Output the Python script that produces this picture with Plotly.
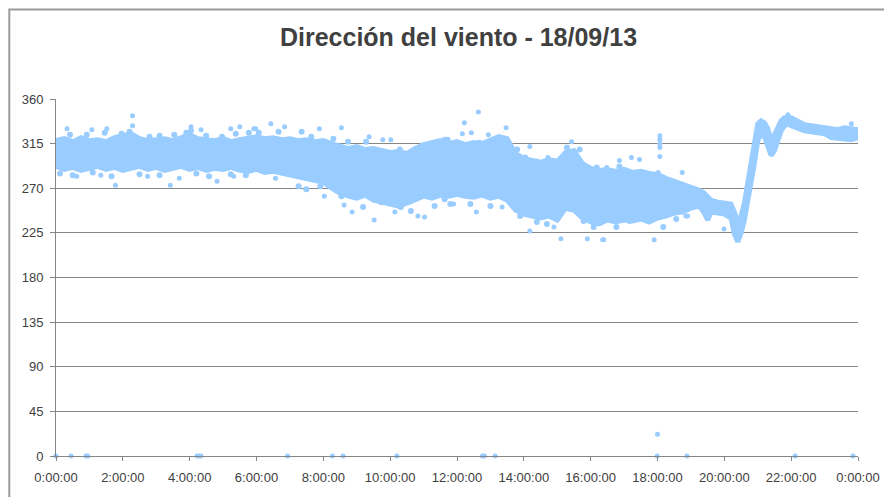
import plotly.graph_objects as go

# ---- data (hours of day, wind direction in degrees) ----
band_hours = [0.0, 0.25, 0.5, 0.75, 1.0, 1.25, 1.5, 1.75, 2.0, 2.25, 2.5, 2.75, 3.0, 3.25, 3.5, 3.75,
              4.0, 4.25, 4.5, 4.75, 5.0, 5.25, 5.5, 5.75, 6.0, 6.25, 6.5, 6.75, 7.0, 7.25, 7.5, 7.75,
              8.0, 8.25, 8.5, 8.75, 9.0, 9.25, 9.5, 9.75, 10.0, 10.25, 10.5, 10.75, 11.0, 11.25, 11.5, 11.75,
              12.0, 12.25, 12.5, 12.75, 13.0, 13.25, 13.5, 13.75, 14.0, 14.25, 14.5, 14.75, 15.0, 15.25, 15.5, 15.75,
              16.0, 16.25, 16.5, 16.75, 17.0, 17.25, 17.5, 17.75, 18.0, 18.25, 18.5, 18.75, 19.0, 19.25, 19.4, 19.5,
              19.6, 19.8, 20.0, 20.2, 20.3, 20.4, 20.5, 20.6, 20.7, 20.8, 20.9, 21.0, 21.1, 21.2, 21.3, 21.4,
              21.5, 21.6, 21.7, 21.8, 21.9, 22.0, 22.2, 22.4, 22.6, 22.8, 23.0, 23.2, 23.4, 23.6, 23.8, 24.0]
band_low = [292, 289, 291, 288, 290, 292, 289, 291, 288, 290, 292, 289, 291, 288, 290, 292,
            289, 291, 288, 290, 289, 291, 288, 287, 289, 286, 287, 285, 283, 281, 279, 278,
            276, 270, 265, 262, 260, 263, 258, 256, 254, 252, 255, 258, 262, 260, 263, 262,
            264, 262, 261, 263, 260, 262, 258, 248, 244, 242, 240, 242, 238, 250, 248, 240,
            236, 234, 238, 236, 238, 237, 239, 236, 240, 242, 245, 246, 250, 252, 245, 238,
            246, 245, 244, 240, 224, 216, 225, 238, 255, 275, 295, 318, 325, 322, 312, 303,
            308, 320, 328, 333, 335, 333, 330, 328, 327, 326, 325, 321, 320, 320, 319, 321]
band_high = [318, 320, 317, 321, 318, 319, 317, 321, 323, 325, 320, 318, 319, 320, 318, 321,
             324, 320, 319, 318, 320, 317, 319, 321, 322, 320, 321, 319, 320, 318, 319, 317,
             318, 315, 313, 310, 312, 309, 310, 308, 306, 307, 305, 310, 314, 316, 318, 315,
             317, 314, 316, 315, 318, 322, 320, 305, 300, 298, 296, 299, 297, 306, 308, 295,
             290, 288, 289, 287, 289, 286, 287, 285, 284, 280, 277, 275, 272, 268, 265, 262,
             258, 256, 255, 254, 246, 236, 242, 255, 275, 295, 315, 335, 338, 336, 330, 318,
             324, 332, 338, 341, 342, 341, 337, 334, 333, 332, 331, 330, 329, 331, 330, 329]

# dots protruding just beyond the dense band
edge_hours = [0.42, 0.92, 1.46, 1.96, 2.2, 2.8, 3.1, 3.54, 3.9, 4.04, 4.49, 4.97, 5.38, 5.77,
              0.12, 0.5, 1.1, 1.66, 2.5, 3.1, 4.2, 4.58, 5.23, 5.68,
              6.07, 6.66, 7.35, 7.64, 8.3, 8.74, 9.28, 10.29, 10.74, 11.63,
              7.26, 7.49, 7.91, 8.54, 9.19, 9.73, 10.32, 10.62, 11.33, 11.8,
              11.72, 12.67, 13.14, 13.8, 14.04, 14.39, 14.9, 15.29, 15.67, 16.18, 16.86,
              11.63, 12.4, 13.0, 13.89, 14.39, 14.69, 15.38, 15.79, 16.09, 16.77, 17.16,
              17.28, 18.17, 18.56, 18.9]
edge_values = [324, 324, 326, 325, 327, 322, 323, 324, 326, 328, 323, 322, 325, 326,
               285, 283, 286, 282, 284, 283, 285, 282, 284, 283,
               326, 327, 327, 322, 320, 317, 317, 309, 306, 319,
               272, 269, 272, 262, 251, 256, 251, 247, 252, 254,
               319, 316, 319, 309, 301, 297, 297, 311, 309, 291, 292,
               259, 254, 252, 242, 236, 234, 249, 237, 231, 231, 237,
               239, 231, 239, 249]

outlier_hours = [0.33, 2.29, 2.29, 1.07, 1.52, 4.04, 4.34, 5.23, 5.5, 5.92,
                 1.78, 3.42, 0.62, 1.34, 2.74, 3.69, 4.82, 5.32,
                 6.43, 6.84, 8.54, 7.88, 5.98, 9.37, 9.78, 10.02,
                 6.57, 8.03, 8.86, 9.52, 8.62, 10.14, 10.83, 11.03,
                 12.64, 12.22, 12.16, 12.43, 12.94, 13.47, 15.43, 14.18, 14.72, 16.86, 17.22,
                 12.58, 14.18, 15.11, 15.9, 16.36, 14.9, 13.35, 11.9,
                 17.46, 16.48, 18.74, 18.02, 17.9, 16.39, 19.99, 18.85, 18.9,
                 18.07, 18.07, 18.07, 18.07, 18.07, 23.8, 21.9, 18.0]
outlier_values = [330, 343, 333, 329, 330, 332, 329, 330, 332, 330,
                  273, 273, 282, 283, 282, 280, 277, 282,
                  335, 332, 331, 330, 330, 322, 319, 319,
                  280, 262, 246, 238, 253, 246, 242, 241,
                  347, 336, 325, 326, 324, 331, 317, 312, 301, 298, 301,
                  246, 227, 219, 219, 218, 231, 251, 254,
                  299, 291, 286, 286, 218, 218, 229, 242, 242,
                  323, 319, 315, 311, 302, 335, 344, 22]

zero_hours = [0.0, 0.45, 0.9, 0.95, 4.22, 4.28, 4.34, 6.93, 8.27, 8.59, 10.2,
              12.76, 12.82, 13.14, 17.99, 18.88, 22.12, 23.85]
zero_values = [0] * len(zero_hours)

tick_hours = [0, 2, 4, 6, 8, 10, 12, 14, 16, 18, 20, 22, 24]
tick_labels = ["0:00:00", "2:00:00", "4:00:00", "6:00:00", "8:00:00", "10:00:00", "12:00:00",
               "14:00:00", "16:00:00", "18:00:00", "20:00:00", "22:00:00", "0:00:00"]
y_ticks = [0, 45, 90, 135, 180, 225, 270, 315, 360]

COLOR = "#99CCFF"
GRID = "#868686"
TXT = "#404040"
FONT = "Liberation Sans, Arial, sans-serif"

fig = go.Figure()
fig.add_trace(go.Scatter(x=band_hours, y=band_low, mode="lines",
                         line=dict(color=COLOR, width=5),
                         hoverinfo="skip", showlegend=False))
fig.add_trace(go.Scatter(x=band_hours, y=band_high, mode="lines", fill="tonexty",
                         fillcolor=COLOR, line=dict(color=COLOR, width=5),
                         showlegend=False))
fig.add_trace(go.Scatter(x=edge_hours, y=edge_values, mode="markers",
                         marker=dict(color=COLOR, size=6), showlegend=False))
fig.add_trace(go.Scatter(x=outlier_hours, y=outlier_values, mode="markers",
                         marker=dict(color=COLOR, size=5), showlegend=False))
fig.add_trace(go.Scatter(x=zero_hours, y=zero_values, mode="markers", cliponaxis=False,
                         marker=dict(color=COLOR, size=5), showlegend=False))

# page body adds an 8px offset; figure spans screen 8..892 x 8..497
W, H = 884, 489
L, R, T, B = 48, 855, 91, 450
pw, ph = R - L, B - T

def px_x(p):
    return (p - L) / pw

def px_y(p):
    return (B - p) / ph

fig.add_shape(type="rect", xref="paper", yref="paper",
              x0=px_x(1), x1=px_x(920), y0=px_y(1), y1=px_y(520),
              line=dict(color="#9a9a9a", width=2), fillcolor="rgba(0,0,0,0)", layer="below")

fig.update_layout(
    width=W, height=H,
    margin=dict(l=L, r=W - R, t=T, b=H - B, pad=0),
    paper_bgcolor="white", plot_bgcolor="white",
    font=dict(family=FONT, size=13, color=TXT),
    title=dict(text="<b>Dirección del viento - 18/09/13</b>", x=px_x(453), xref="paper",
               xanchor="center", y=1 - 29 / H, yanchor="middle",
               font=dict(size=25, color=TXT, family=FONT)),
    xaxis=dict(range=[0, 24], tickvals=tick_hours, ticktext=tick_labels,
               showgrid=False, zeroline=False, showline=True, linecolor=GRID, linewidth=1,
               ticks="outside", ticklen=4, tickcolor=GRID, ticklabelstandoff=5,
               tickfont=dict(size=13, color=TXT)),
    yaxis=dict(range=[0, 360], tickvals=y_ticks, showgrid=True, gridcolor=GRID, gridwidth=1,
               zeroline=False, showline=True, linecolor=GRID, linewidth=1,
               ticks="outside", ticklen=5, tickcolor=GRID, ticklabelstandoff=4,
               tickfont=dict(size=13, color=TXT)),
)

fig.write_html("out.html")
